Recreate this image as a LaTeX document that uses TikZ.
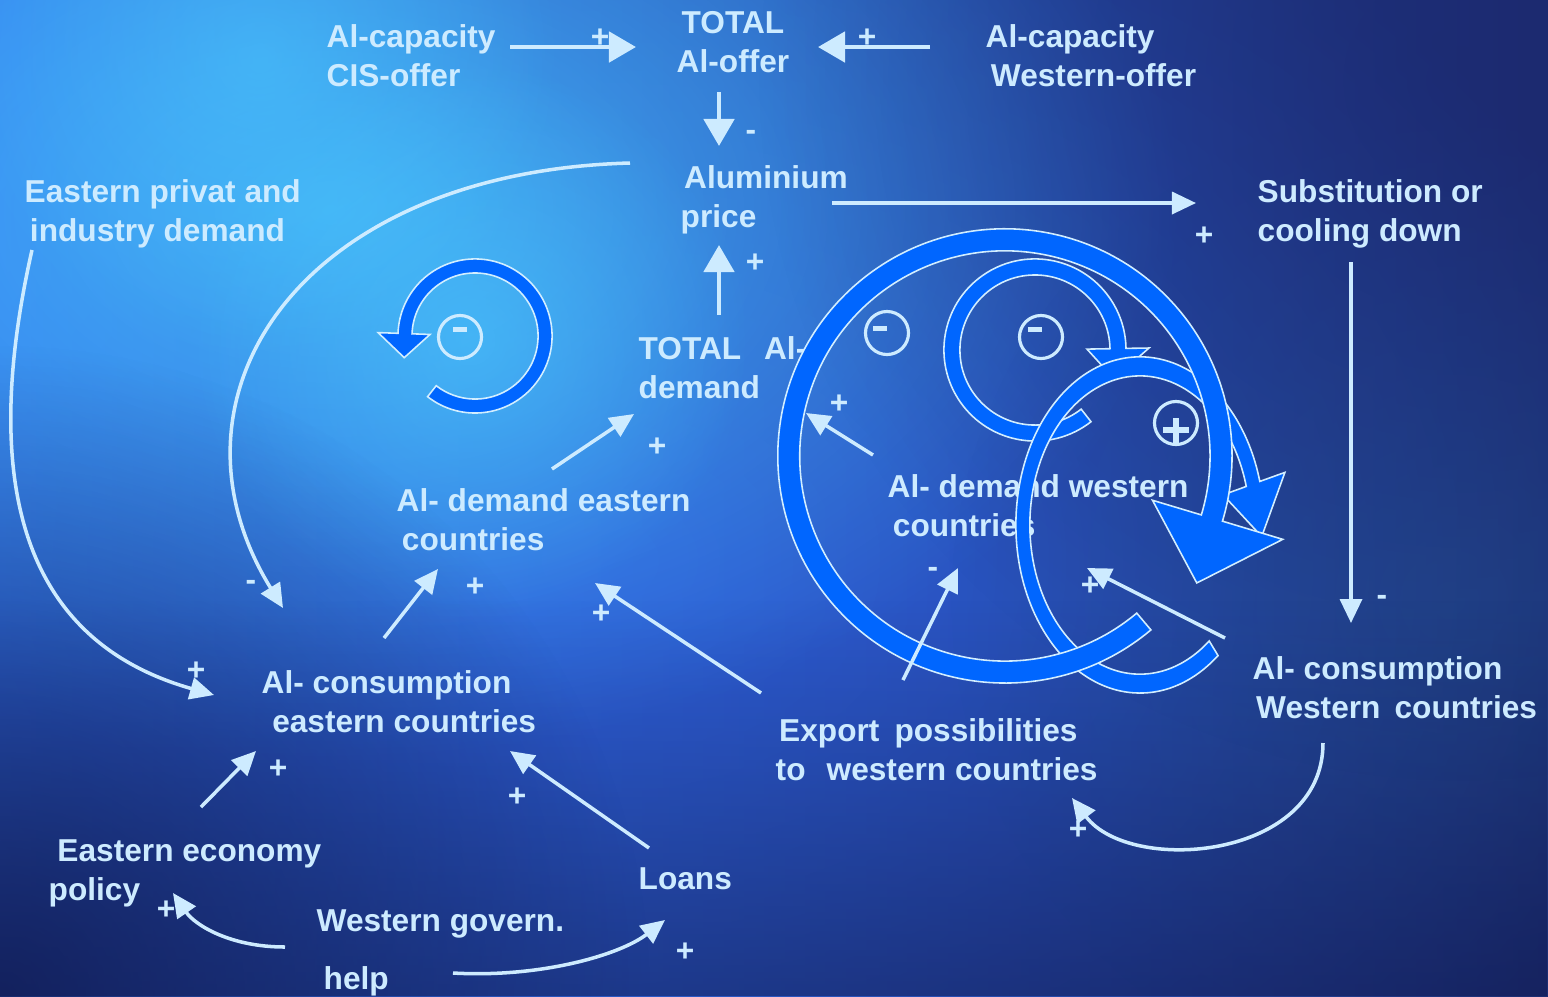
\documentclass[tikz,border=0pt]{standalone}
\usepackage{fontspec}
\setmainfont{Liberation Sans}
\usetikzlibrary{arrows.meta, fadings}

\definecolor{labelblue}{RGB}{205,235,255}
\definecolor{loopblue}{RGB}{0,102,255}
\definecolor{looprim}{RGB}{210,238,255}
\definecolor{skycyan}{RGB}{75,205,255}
\definecolor{skyblue}{RGB}{50,118,238}
\definecolor{royalblue}{RGB}{48,98,230}
\definecolor{midblue}{RGB}{42,88,215}
\definecolor{deepnavy}{RGB}{28,42,112}
\definecolor{nightblue}{RGB}{16,24,78}
\definecolor{tealhaze}{RGB}{35,85,140}

\tikzfading[name=glow, inner color=transparent!0, outer color=transparent!100]
\tikzfading[name=fadeup, top color=transparent!100, bottom color=transparent!0]

\tikzset{
  lbl/.style={text=labelblue, font=\bfseries\fontsize{9}{11.1}\selectfont, inner sep=0pt, align=left, anchor=west},
  sgn/.style={text=labelblue, font=\bfseries\fontsize{9}{11.1}\selectfont, inner sep=0pt},
  link/.style={draw=labelblue, line width=1pt, -{Triangle[length=2.4mm, width=2.2mm]}},
  mainlink/.style={draw=labelblue, line width=1.4pt, -{Triangle[length=2.7mm, width=3mm]}},
  loopband/.style={fill=loopblue, draw=looprim, line width=0.45pt},
  polarity/.style={circle, draw=labelblue, line width=0.9pt, minimum size=4.3mm, inner sep=0pt}
}

\begin{document}
\begin{tikzpicture}[x=0.01cm, y=0.01cm]
\useasboundingbox (0,0) rectangle (1548,-996);

% sky
\shade[left color=skyblue, middle color=midblue, right color=deepnavy] (0,0) rectangle (1548,-996);
\fill[royalblue, path fading=glow, opacity=0.7] (600,-560) ellipse [x radius=11cm, y radius=8cm];
\fill[skycyan, path fading=glow, opacity=0.7] (330,-210) ellipse [x radius=8.5cm, y radius=5.5cm];
\fill[skycyan, path fading=glow, opacity=0.55] (470,-340) circle [radius=2.8cm];
\fill[skycyan, path fading=glow, opacity=0.5] (260,-60) circle [radius=3cm];
\fill[tealhaze, path fading=glow, opacity=0.45] (1450,-600) circle [radius=5cm];
\fill[deepnavy, path fading=glow, opacity=0.6] (1460,-80) circle [radius=7cm];
\fill[nightblue, path fading=fadeup, opacity=0.5] (0,-600) rectangle (1548,-996);
\fill[nightblue, path fading=glow, opacity=0.8] (0,-996) circle [radius=6.5cm];

% variables
\node[lbl] (cis) at (326,-56) {Al-capacity\\CIS-offer};
\node[lbl, align=center, anchor=center] (offer) at (733,-42) {TOTAL\\Al-offer};
\node[lbl] (westoffer) at (985,-56) {Al-capacity\\\hspace*{1.5pt}Western-offer};
\node[lbl] (price) at (680,-200) {\hspace*{1pt}Aluminium\\price};
\node[lbl] (subst) at (1257,-214) {Substitution or\\cooling down};
\node[lbl] (eastdem) at (24,-214) {Eastern privat and\\\hspace*{1.5pt}industry demand};
\node[lbl] (totdem) at (638,-368) {TOTAL\hspace{6.5pt}Al-\\demand};
\node[lbl] (demeast) at (396,-520) {Al- demand eastern\\\hspace*{1.5pt}countries};
\node[lbl] (demwest) at (887,-506) {Al- demand western\\\hspace*{1.5pt}countries};
\node[lbl] (conseast) at (261,-702) {Al- consumption\\\hspace*{3pt}eastern countries};
\node[lbl] (export) at (775,-750) {\hspace*{1pt}Export\hspace{4.3pt}possibilities\\to\hspace{6pt}western countries};
\node[lbl] (conswest) at (1252,-688) {Al- consumption\\\hspace*{1pt}Western\hspace{4pt}countries};
\node[lbl] (policy) at (48,-873) {\hspace*{2.5pt}Eastern economy\\policy};
\node[lbl] (loans) at (638,-879) {Loans};
\node[lbl] (govern) at (316,-924) {Western govern.};
\node[lbl] (help) at (323,-981) {help};

% loops
\begin{scope}[shift={(475,-336)}]
  \filldraw[loopband] (232:77) arc[start angle=232, end angle=538, radius=0.77cm]
    -- (538:97) -- (557:74) -- (538:45) -- (538:63)
    arc[start angle=538, end angle=232, radius=0.63cm] -- cycle;
\end{scope}
\begin{scope}[shift={(1035,-350)}]
  \filldraw[loopband] (-52:91) arc[start angle=-52, end angle=-359, radius=0.91cm]
    -- (-359:114) -- (-380:84) -- (-359:52) -- (-359:75)
    arc[start angle=-359, end angle=-52, radius=0.75cm] -- cycle;
\end{scope}
\begin{scope}[shift={(1140,-525)}, yscale=1.355]
  \filldraw[loopband] (-51:124) arc[start angle=-51, end angle=-345, radius=1.24cm]
    -- (-345:150) -- (-364:122) -- (-345:86) -- (-345:110)
    arc[start angle=-345, end angle=-51, radius=1.1cm] -- cycle;
\end{scope}
\begin{scope}[shift={(1005,-456)}]
  \filldraw[loopband] (-50:227) arc[start angle=-50, end angle=-376.7, radius=2.27cm]
    -- (-376.7:290) -- (-393.5:230) -- (-376.7:154) -- (-376.7:205)
    arc[start angle=-376.7, end angle=-50, radius=2.05cm] -- cycle;
\end{scope}

% loop polarities
\node[polarity] (bal1) at (460,-337) {};
\node[polarity] (bal2) at (887,-333) {};
\node[polarity] (bal3) at (1041,-337) {};
\node[polarity] (reinf) at (1176,-423) {};
\fill[labelblue] ([shift={(-7,5)}]bal1.center) rectangle ([shift={(7,10)}]bal1.center);
\fill[labelblue] ([shift={(-14,2)}]bal2.center) rectangle ([shift={(0,7)}]bal2.center);
\fill[labelblue] ([shift={(-13,5)}]bal3.center) rectangle ([shift={(1,10)}]bal3.center);
\draw[labelblue, line width=1.7pt] ([shift={(-13,-7)}]reinf.center) -- ([shift={(13,-7)}]reinf.center)
  ([shift={(0,5)}]reinf.center) -- ([shift={(0,-20)}]reinf.center);

% connector ends
\coordinate (cis-out) at (510,-47);
\coordinate (offer-w) at (636,-47);
\coordinate (west-out) at (930,-47);
\coordinate (offer-e) at (818,-47);
\coordinate (offer-s) at (719,-92);
\coordinate (price-n) at (719,-146);
\coordinate (totdem-n) at (719,-315);
\coordinate (price-s) at (719,-245);
\coordinate (price-e) at (832,-203);
\coordinate (subst-w) at (1196,-203);
\coordinate (subst-s) at (1351,-262);
\coordinate (conswest-n) at (1351,-623);
\coordinate (demwest-out) at (873,-455);
\coordinate (totdem-e) at (806,-413);
\coordinate (demeast-out) at (552,-469);
\coordinate (totdem-s) at (634,-414);
\coordinate (price-w) at (630,-163);
\coordinate (conseast-nw) at (283,-608);
\coordinate (eastdem-s) at (32,-250);
\coordinate (conseast-w) at (214,-695);
\coordinate (conseast-n) at (384,-638);
\coordinate (demeast-s) at (438,-569);
\coordinate (export-nw) at (761,-693);
\coordinate (demeast-se) at (595,-583);
\coordinate (export-n) at (903,-680);
\coordinate (demwest-s) at (958,-568);
\coordinate (conswest-nw) at (1225,-638);
\coordinate (demwest-se) at (1087,-568);
\coordinate (policy-n) at (201,-807);
\coordinate (conseast-sw) at (256,-751);
\coordinate (loans-n) at (649,-848);
\coordinate (conseast-s) at (510,-751);
\coordinate (conswest-s) at (1323,-743);
\coordinate (export-se) at (1072,-798);
\coordinate (govern-w) at (285,-947);
\coordinate (policy-se) at (173,-893);
\coordinate (help-e) at (453,-973);
\coordinate (loans-s) at (665,-920);

% causal links
\draw[mainlink] (cis-out) -- (offer-w);
\draw[mainlink] (west-out) -- (offer-e);
\draw[mainlink] (offer-s) -- (price-n);
\draw[mainlink] (totdem-n) -- (price-s);
\draw[link] (price-e) -- (subst-w);
\draw[link] (subst-s) -- (conswest-n);
\draw[link] (demwest-out) -- (totdem-e);
\draw[link] (demeast-out) -- (totdem-s);
\draw[link] (price-w) .. controls (300,-172) and (152,-396) .. (conseast-nw);
\draw[link] (eastdem-s) .. controls (-20,-480) and (20,-640) .. (conseast-w);
\draw[link] (conseast-n) -- (demeast-s);
\draw[link] (export-nw) -- (demeast-se);
\draw[link] (export-n) -- (demwest-s);
\draw[link] (conswest-nw) -- (demwest-se);
\draw[link] (policy-n) -- (conseast-sw);
\draw[link] (loans-n) -- (conseast-s);
\draw[link] (conswest-s) .. controls (1323,-860) and (1130,-875) .. (export-se);
\draw[link] (govern-w) .. controls (230,-947) and (195,-925) .. (policy-se);
\draw[link] (help-e) .. controls (540,-978) and (620,-955) .. (loans-s);

% link polarities
\node[sgn] (p1) at (600,-38) {+};
\node[sgn] (p2) at (867,-38) {+};
\node[sgn] (p3) at (751,-135) {-};
\node[sgn] (p4) at (755,-263) {+};
\node[sgn] (p5) at (1204,-236) {+};
\node[sgn] (p6) at (1382,-600) {-};
\node[sgn] (p7) at (839,-404) {+};
\node[sgn] (p8) at (657,-447) {+};
\node[sgn] (p9) at (251,-585) {-};
\node[sgn] (p10) at (196,-671) {+};
\node[sgn] (p11) at (475,-587) {+};
\node[sgn] (p12) at (601,-614) {+};
\node[sgn] (p13) at (933,-572) {-};
\node[sgn] (p14) at (1090,-586) {+};
\node[sgn] (p15) at (278,-769) {+};
\node[sgn] (p16) at (517,-797) {+};
\node[sgn] (p17) at (1078,-830) {+};
\node[sgn] (p18) at (166,-910) {+};
\node[sgn] (p19) at (685,-952) {+};
\end{tikzpicture}
\end{document}
